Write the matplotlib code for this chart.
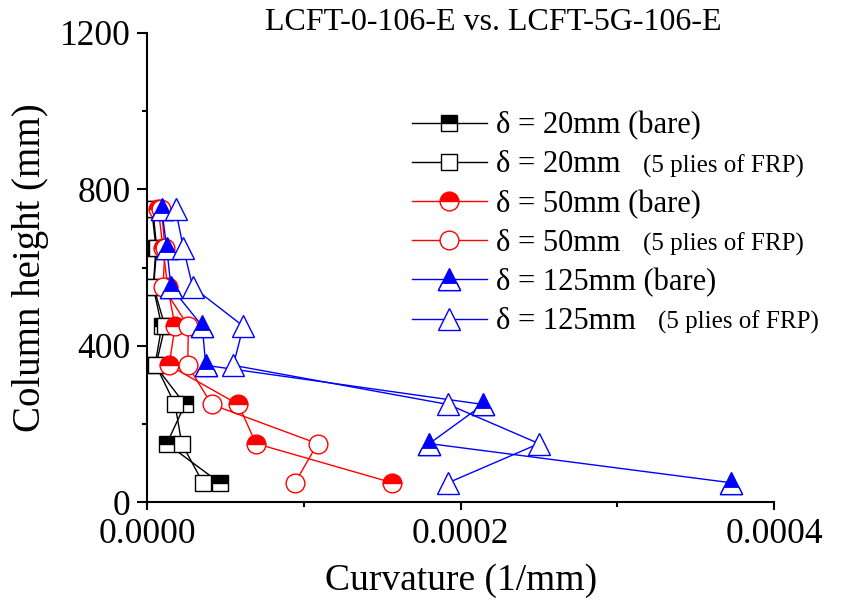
import numpy as np
import matplotlib
matplotlib.use("Agg")
import matplotlib.pyplot as plt
from matplotlib.path import Path
from matplotlib.ticker import MultipleLocator, FormatStrFormatter

plt.rcParams['font.family'] = ['Liberation Serif', 'DejaVu Serif']

# column heights (mm)
height = [50, 150, 250, 350, 450, 550, 650, 750]

# curvature values, 1e-5 1/mm
k20_bare = [4.62, 1.24, 2.41, 0.49, 0.92, 0.38, 0.55, 0.28]
k20_frp = [3.55, 2.20, 1.77, 0.55, 1.13, 0.40, 0.60, 0.35]
k50_bare = [15.64, 6.94, 5.81, 1.39, 1.77, 1.30, 1.00, 0.70]
k50_frp = [9.43, 10.87, 4.11, 2.58, 2.62, 1.00, 1.13, 0.90]
k125_bare = [37.25, 18.0, 21.44, 3.73, 3.51, 1.51, 1.24, 0.92]
k125_frp = [19.21, 25.0, 19.21, 5.49, 6.13, 2.90, 2.30, 1.80]

main_labels = [r'δ = 20mm (bare)', r'δ = 20mm', r'δ = 50mm (bare)',
               r'δ = 50mm', r'δ = 125mm (bare)', r'δ = 125mm']
frp_note = '(5 plies of FRP)'

fig = plt.figure(figsize=(8.43, 6.05), dpi=100)
ax = fig.add_axes([147.3 / 843, 1 - 502.3 / 605, (774 - 147.3) / 843, (502.3 - 32.7) / 605])

sc = 1e-5
lw = 1.0
mew = 1.0

# white bottom strip for half-filled triangles (top 2/3 filled)
strip = Path([(-1, -1), (1, -1), (2 / 3, -1 / 3), (-2 / 3, -1 / 3), (-1, -1)],
             [Path.MOVETO, Path.LINETO, Path.LINETO, Path.LINETO, Path.CLOSEPOLY])

h1, = ax.plot(np.array(k20_bare) * sc, height, color='black', lw=lw, marker='s', ms=11.5,
              mfc='black', mfcalt='white', fillstyle='top', mec='black', mew=mew)
h2, = ax.plot(np.array(k20_frp) * sc, height, color='black', lw=lw, marker='s', ms=11.5,
              mfc='white', mec='black', mew=mew)
h3, = ax.plot(np.array(k50_bare) * sc, height, color='red', lw=lw, marker='o', ms=13.5,
              mfc='red', mfcalt='white', fillstyle='top', mec='red', mew=mew)
h4, = ax.plot(np.array(k50_frp) * sc, height, color='red', lw=lw, marker='o', ms=13.5,
              mfc='white', mec='red', mew=mew)
h5, = ax.plot(np.array(k125_bare) * sc, height, color='blue', lw=lw, marker='^', ms=16,
              mfc='blue', mec='blue', mew=mew)
h5s, = ax.plot(np.array(k125_bare) * sc, height, ls='none', marker=strip, ms=16,
               mfc='white', mec='blue', mew=mew)
h6, = ax.plot(np.array(k125_frp) * sc, height, color='blue', lw=lw, marker='^', ms=16,
              mfc='white', mec='blue', mew=mew)

ax.set_xlim(0, 0.0004)
ax.set_ylim(0, 1200)
ax.xaxis.set_major_locator(MultipleLocator(0.0002))
ax.xaxis.set_minor_locator(MultipleLocator(0.0001))
ax.xaxis.set_major_formatter(FormatStrFormatter('%.4f'))
ax.yaxis.set_major_locator(MultipleLocator(400))
ax.yaxis.set_minor_locator(MultipleLocator(200))

for s in ['top', 'right']:
    ax.spines[s].set_visible(False)
for s in ['left', 'bottom']:
    ax.spines[s].set_linewidth(1.5)
ax.tick_params(which='major', direction='out', length=6, width=1.5, labelsize=25.5)
ax.tick_params(which='minor', direction='out', length=3.5, width=1.5)
ax.tick_params(axis='y', which='major', length=7, pad=5)
ax.tick_params(axis='x', which='major', pad=5)

ax.set_xlabel('Curvature (1/mm)', fontsize=27, labelpad=9)
ax.set_ylabel('Column height (mm)', fontsize=28, labelpad=8)
fig.text(493.5 / 843, 1 - 22 / 605, 'LCFT-0-106-E vs. LCFT-5G-106-E', fontsize=23,
         ha='center', va='center')

leg = ax.legend([(h1,), (h2,), (h3,), (h4,), (h5, h5s), (h6,)], main_labels,
                loc='upper left', bbox_to_anchor=(411.7 / 843, 1 - 111 / 605),
                bbox_transform=fig.transFigure, frameon=False, fontsize=22,
                borderpad=0, borderaxespad=0, handlelength=2.45, handletextpad=0.32,
                labelspacing=0.33)

fig.canvas.draw()
inv = fig.transFigure.inverted()
for i in (1, 3, 5):
    bb = leg.get_texts()[i].get_window_extent()
    x, y = inv.transform((bb.x1 + 22, (bb.y0 + bb.y1) / 2 - 1))
    fig.text(x, y, frp_note, fontsize=18, ha='left', va='center')

fig.savefig('out.png', dpi=100)
